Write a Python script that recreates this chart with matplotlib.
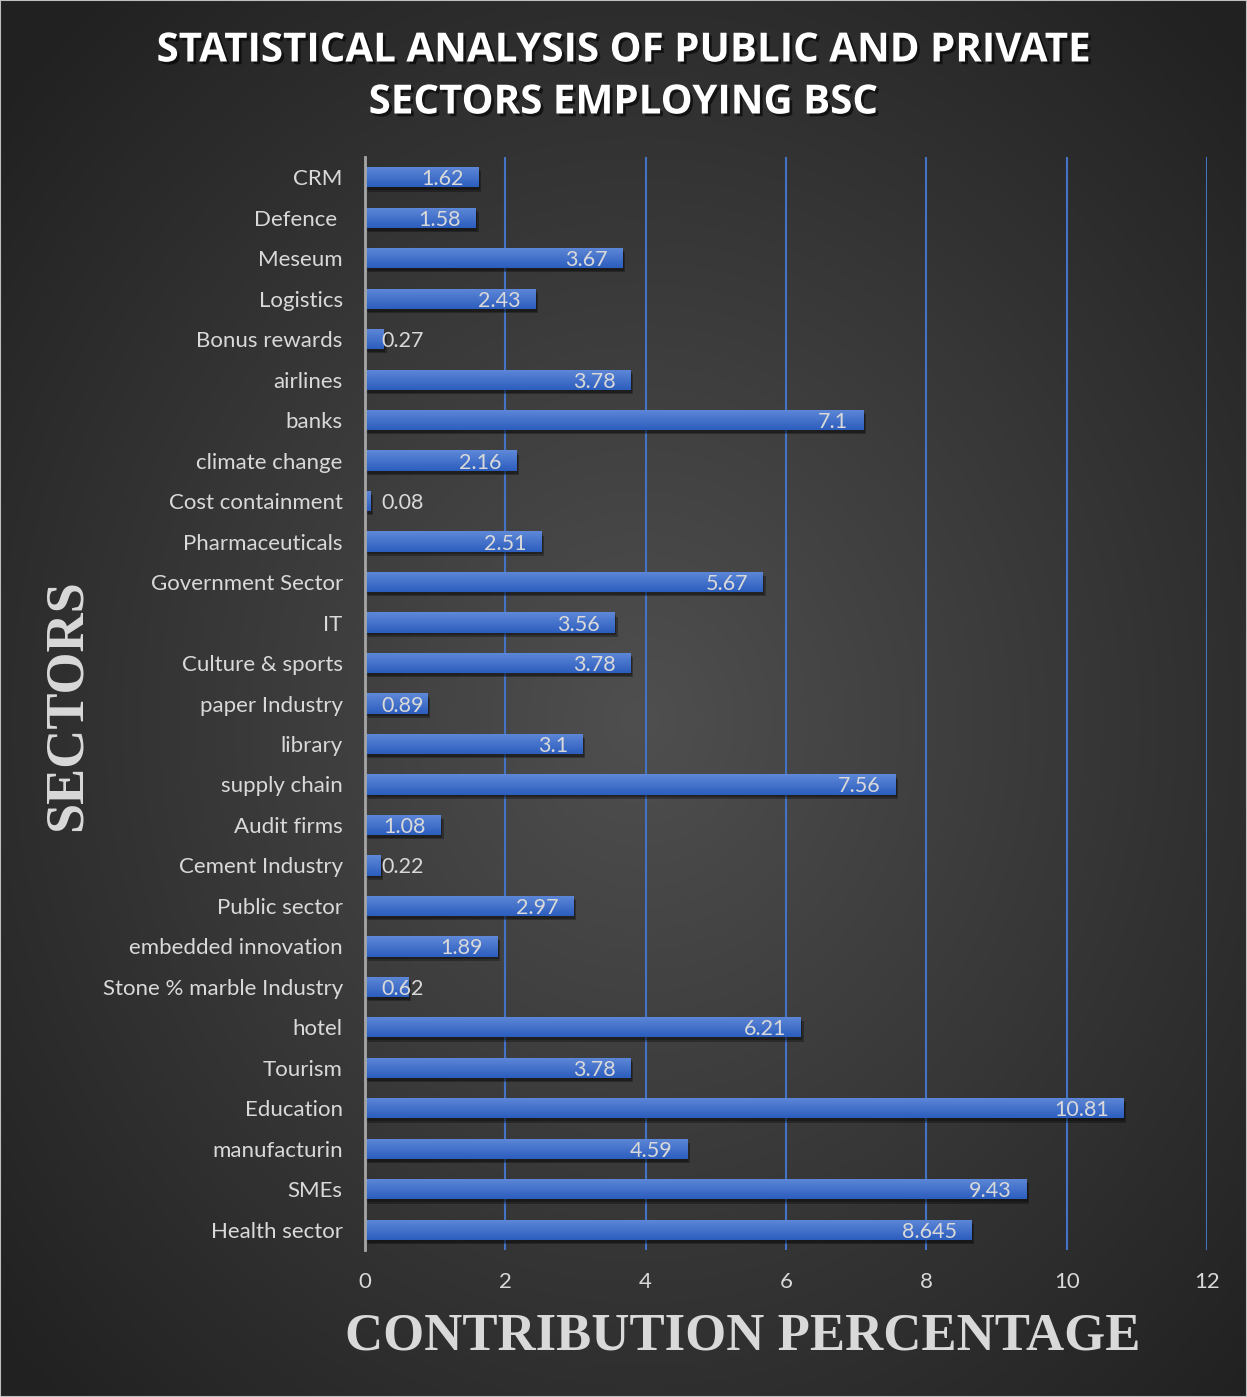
import numpy as np
import matplotlib.pyplot as plt
import matplotlib.patheffects as pe

# sectors, top to bottom as they appear on the chart
sectors = ['CRM', 'Defence ', 'Meseum', 'Logistics', 'Bonus rewards', 'airlines', 'banks',
           'climate change', 'Cost containment', 'Pharmaceuticals', 'Government Sector', 'IT',
           'Culture & sports', 'paper Industry', 'library', 'supply chain', 'Audit firms',
           'Cement Industry', 'Public sector', 'embedded innovation', 'Stone % marble Industry',
           'hotel', 'Tourism', 'Education', 'manufacturin', 'SMEs', 'Health sector']
contribution = [1.62, 1.58, 3.67, 2.43, 0.27, 3.78, 7.1, 2.16, 0.08, 2.51, 5.67, 3.56,
                3.78, 0.89, 3.1, 7.56, 1.08, 0.22, 2.97, 1.89, 0.62, 6.21, 3.78, 10.81,
                4.59, 9.43, 8.645]
value_text = ['1.62', '1.58', '3.67', '2.43', '0.27', '3.78', '7.1', '2.16', '0.08', '2.51',
              '5.67', '3.56', '3.78', '0.89', '3.1', '7.56', '1.08', '0.22', '2.97', '1.89',
              '0.62', '6.21', '3.78', '10.81', '4.59', '9.43', '8.645']
x_ticks = [0, 2, 4, 6, 8, 10, 12]

LABEL_FONT = 'Lato'
TEXT_COLOR = '#d9d9d9'
BAR_TOP = np.array([95, 136, 216]) / 255
BAR_BOTTOM = np.array([44, 94, 190]) / 255

fig = plt.figure(figsize=(12.47, 13.97), dpi=100)

# radial grey backdrop over the whole figure
bg = fig.add_axes([0, 0, 1, 1], zorder=-10)
yy, xx = np.mgrid[0:1397, 0:1247]
r = np.sqrt(((xx - 640) / 800.0) ** 2 + ((yy - 720) / 900.0) ** 2)
shade = np.clip(0.31 - 0.17 * r, 0.13, 0.31)
bg.imshow(np.dstack([shade] * 3), extent=[0, 1, 0, 1], aspect='auto')
bg.set_xlim(0, 1)
bg.set_ylim(0, 1)
bg.axis('off')
bg.add_patch(plt.Rectangle((0, 0), 1, 1, fill=False, edgecolor='#bfbfbf', lw=1.5,
                           transform=bg.transAxes))

ax = fig.add_axes([365 / 1247, 1 - 1250 / 1397, 842 / 1247, 1093 / 1397])
ax.set_facecolor('none')

ypos = np.arange(len(sectors))[::-1]
bars = ax.barh(ypos, contribution, height=0.5, color=BAR_BOTTOM, zorder=3)

# vertical gradient on each bar plus a soft drop shadow
grad = np.linspace(0, 1, 64)[:, None, None]
grad_img = BAR_TOP * (1 - grad) + BAR_BOTTOM * grad
for b in bars:
    b.set_path_effects([pe.SimplePatchShadow(offset=(2, -3), shadow_rgbFace='black', alpha=0.3),
                        pe.SimplePatchShadow(offset=(1, -2), shadow_rgbFace='black', alpha=0.3),
                        pe.Normal()])
    x0, y0, w, h = b.get_x(), b.get_y(), b.get_width(), b.get_height()
    im = ax.imshow(grad_img, extent=[x0, x0 + w, y0, y0 + h], aspect='auto',
                   origin='upper', zorder=3.5)
    im.set_clip_path(b)

for y, v, t in zip(ypos, contribution, value_text):
    if v < 1.0:
        ax.text(0.23, y - 0.05, t, ha='left', va='center', color=TEXT_COLOR,
                fontsize=15.5, family=LABEL_FONT, zorder=5)
    else:
        ax.text(v - 0.21, y - 0.05, t, ha='right', va='center', color=TEXT_COLOR,
                fontsize=15.5, family=LABEL_FONT, zorder=5)

ax.set_xlim(0, 12)
ax.set_ylim(-0.5, len(sectors) - 0.5)
ax.set_xticks(x_ticks)
ax.set_yticks(ypos)
ax.set_yticklabels(sectors)
ax.xaxis.grid(True, color='#4472c4', lw=1.5, zorder=1)
ax.set_axisbelow(True)
for side in ['top', 'right', 'bottom']:
    ax.spines[side].set_visible(False)
ax.spines['left'].set_color('#a6a6a6')
ax.spines['left'].set_linewidth(2)
ax.spines['left'].set_zorder(4)
ax.tick_params(axis='both', length=0, colors=TEXT_COLOR, labelsize=16)
ax.tick_params(axis='x', pad=16)
ax.tick_params(axis='y', pad=16)
for lab in ax.get_xticklabels() + ax.get_yticklabels():
    lab.set_family(LABEL_FONT)

shadow = [pe.withSimplePatchShadow(offset=(2, -2), shadow_rgbFace='black', alpha=0.6)]
fig.text(0.5, 1 - 51 / 1397, 'STATISTICAL ANALYSIS OF PUBLIC AND PRIVATE', ha='center',
         va='center', color='white', fontsize=29, fontweight='bold', family='Open Sans',
         path_effects=shadow)
fig.text(0.5, 1 - 103 / 1397, 'SECTORS EMPLOYING BSC', ha='center', va='center',
         color='white', fontsize=29, fontweight='bold', family='Open Sans',
         path_effects=shadow)

fig.text(743 / 1247, 1 - 1337 / 1397, 'CONTRIBUTION PERCENTAGE', ha='center', va='center',
         color='#d9d9d9', fontsize=38, fontweight='bold', family='Liberation Serif')
fig.text(68 / 1247, 1 - 705 / 1397, 'SECTORS', ha='center', va='center', rotation=90,
         color='#d9d9d9', fontsize=39, fontweight='bold', family='Liberation Serif')

fig.savefig('out.png', dpi=100)
